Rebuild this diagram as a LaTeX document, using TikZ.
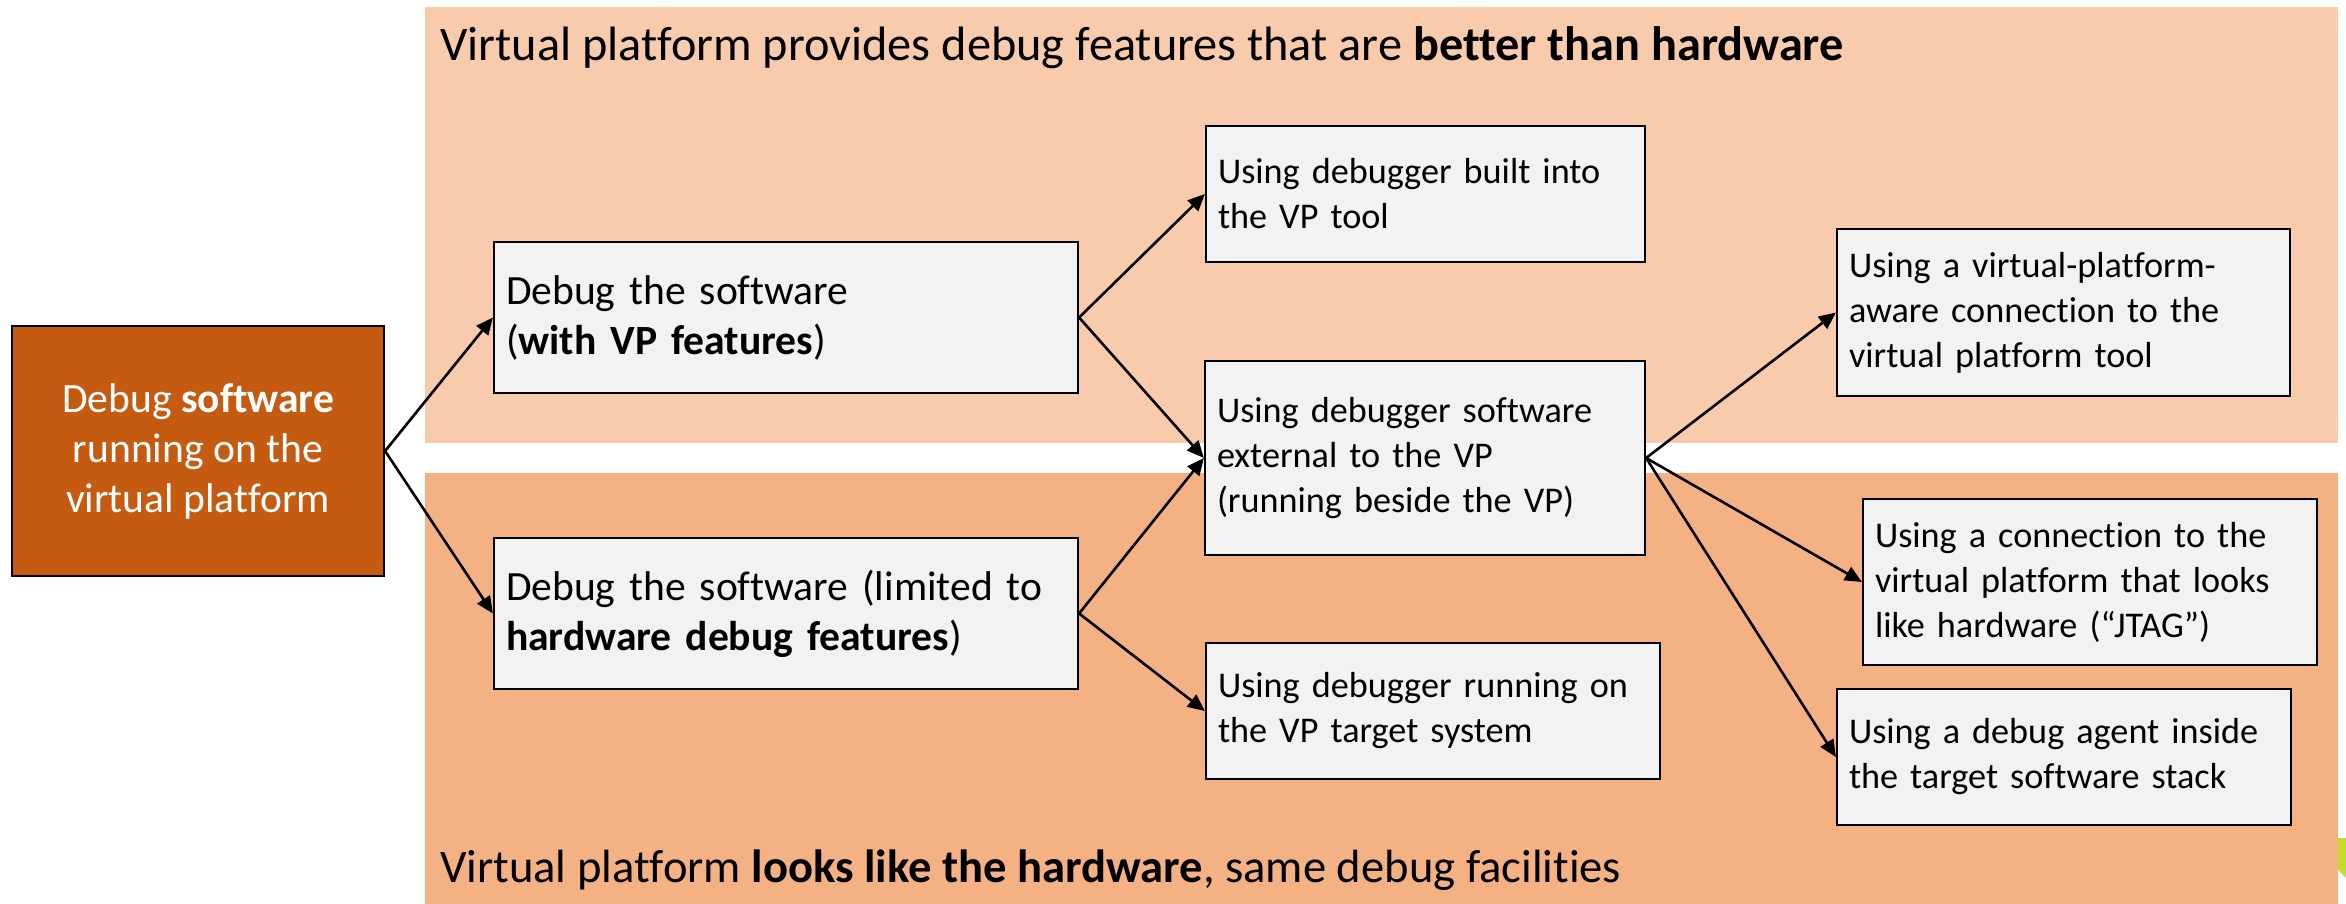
\documentclass[tikz,border=0pt]{standalone}
\usepackage{fontspec}
\setmainfont{Carlito}[Ligatures={NoCommon}]
\usetikzlibrary{arrows.meta}
\definecolor{bandtop}{HTML}{F8CBAD}
\definecolor{bandbot}{HTML}{F4B183}
\definecolor{rootfill}{HTML}{C55A11}
\definecolor{boxfill}{HTML}{F2F2F2}
\definecolor{limeedge}{HTML}{C5D82E}
\begin{document}
\begin{tikzpicture}[x=1pt,y=-1pt,
  item/.style={draw=black, line width=2.2pt, fill=boxfill, inner xsep=12pt, inner ysep=0pt, align=left},
  bigtext/.style={font=\fontsize{41.6}{50}\selectfont},
  smalltext/.style={font=\fontsize{36.2}{45}\selectfont},
  titletext/.style={anchor=base west, inner sep=0pt},
  link/.style={line width=2.6pt, -{Triangle[length=17pt,width=15pt]}},
]
\useasboundingbox (0,0) rectangle (2346,904);
\fill[white] (0,0) rectangle (2346,904);
% two background bands
\fill[bandtop] (425,7) rectangle (2338,443);
\fill[bandbot] (425,473) rectangle (2338,904);
\fill[limeedge] (2338,838) -- (2346,838) -- (2346,878) -- (2338,870) -- cycle;

\node[titletext, font=\fontsize{48.3}{58}\selectfont] (toptitle) at (440,61)
      {Virtual platform provides debug features that are \textbf{better than hardware}};
\node[titletext, font=\fontsize{46.6}{56}\selectfont] (bottitle) at (440,882)
      {Virtual platform \textbf{looks like the hardware}, same debug facilities};

% boxes
\node[draw=black, fill=rootfill, text=white, line width=2.2pt, bigtext, align=center,
      minimum width=372pt, minimum height=250pt, inner sep=0pt] (root) at (198,451)
      {Debug \textbf{software}\\running on the\\virtual platform};
\node[item, bigtext, text width=560pt, minimum height=151pt] (vpf) at (786,317.5)
      {Debug the software\\(\textbf{with VP features})};
\node[item, bigtext, text width=560pt, minimum height=151pt] (hwf) at (786,613.5)
      {Debug the software (limited to\\\textbf{hardware debug features})};
\node[item, smalltext, text width=415pt, minimum height=136pt] (built) at (1425.5,194)
      {Using debugger built into\\the VP tool};
\node[item, smalltext, text width=416pt, minimum height=194pt] (ext) at (1425,458)
      {Using debugger software\\external to the VP\\(running beside the VP)};
\node[item, smalltext, text width=430pt, minimum height=136pt] (onvp) at (1433,711)
      {Using debugger running on\\the VP target system};
\node[item, smalltext, text width=429pt, minimum height=167pt] (aware) at (2063.5,312.5)
      {Using a virtual-platform-\\aware connection to the\\virtual platform tool};
\node[item, smalltext, text width=430pt, minimum height=166pt] (jtag) at (2090,582)
      {Using a connection to the\\virtual platform that looks\\like hardware (“JTAG”)};
\node[item, smalltext, text width=430pt, minimum height=136pt] (agent) at (2064,757)
      {Using a debug agent inside\\the target software stack};

% connectors
\draw[link] (root.east) -- (vpf.west);
\draw[link] (root.east) -- (hwf.west);
\draw[link] (vpf.east) -- (built.west);
\draw[link] (vpf.east) -- (ext.west);
\draw[link] (hwf.east) -- (ext.west);
\draw[link] (hwf.east) -- (onvp.west);
\draw[link] (ext.east) -- (aware.west);
\draw[link] (ext.east) -- (jtag.west);
\draw[link] (ext.east) -- (agent.west);
\end{tikzpicture}
\end{document}
